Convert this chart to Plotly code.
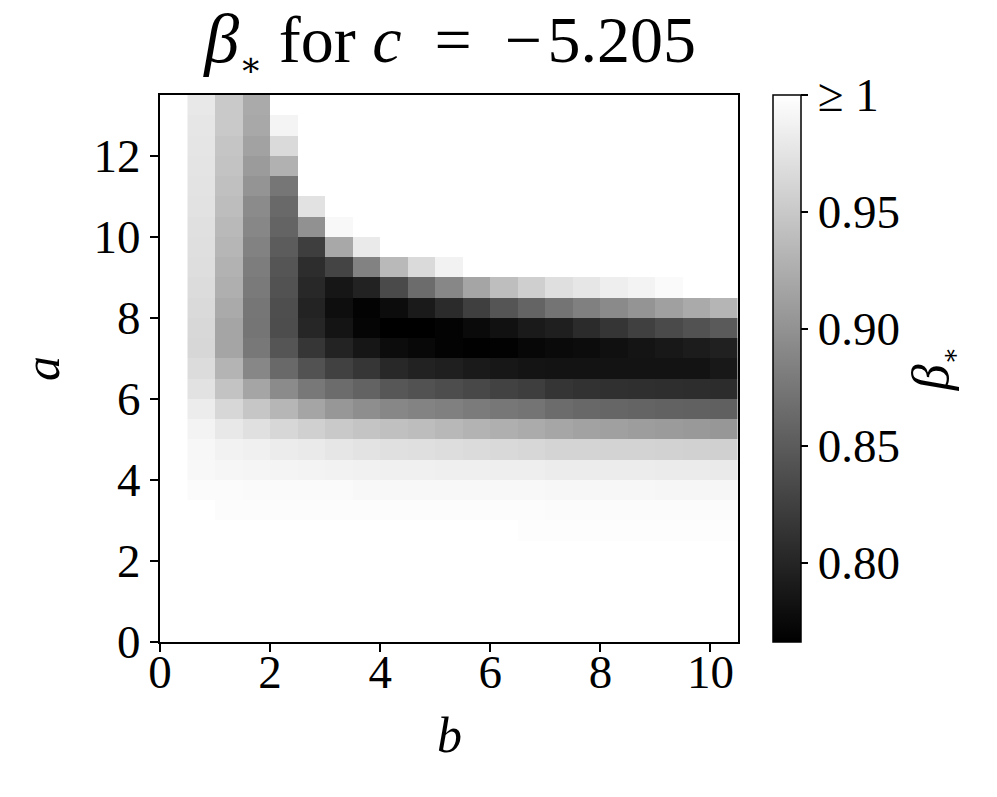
import plotly.graph_objects as go

FONT = "Liberation Serif"

# cell centres (b across, a up)
b_centers = [0.75, 1.25, 1.75, 2.25, 2.75, 3.25, 3.75, 4.25, 4.75, 5.25,
             5.75, 6.25, 6.75, 7.25, 7.75, 8.25, 8.75, 9.25, 9.75, 10.25]
a_centers = [0.25, 0.75, 1.25, 1.75, 2.25, 2.75, 3.25, 3.75, 4.25, 4.75,
             5.25, 5.75, 6.25, 6.75, 7.25, 7.75, 8.25, 8.75, 9.25, 9.75,
             10.25, 10.75, 11.25, 11.75, 12.25, 12.75, 13.25]

# beta_* per row (values >= 1 shown as 1)
row_0_25 = [1.0] * 20
row_0_75 = [1.0] * 20
row_1_25 = [1.0] * 20
row_1_75 = [1.0] * 20
row_2_25 = [1.0] * 20
row_2_75 = [1.0] * 12 + [0.998] * 8
row_3_25 = [1.0, 0.997, 0.997, 0.997, 0.997, 0.997, 0.997, 0.997, 0.997, 0.997,
            0.997, 0.997, 0.997, 0.996, 0.996, 0.996, 0.996, 0.996, 0.996, 0.996]
row_3_75 = [0.996, 0.996, 0.995, 0.995, 0.995, 0.995, 0.994, 0.994, 0.994, 0.994,
            0.994, 0.994, 0.994, 0.993, 0.993, 0.993, 0.993, 0.992, 0.992, 0.992]
row_4_25 = [0.994, 0.992, 0.991, 0.990, 0.989, 0.988, 0.987, 0.986, 0.986, 0.985,
            0.985, 0.984, 0.984, 0.983, 0.983, 0.983, 0.983, 0.982, 0.982, 0.981]
row_4_75 = [0.993, 0.988, 0.986, 0.983, 0.981, 0.977, 0.974, 0.972, 0.971, 0.969,
            0.967, 0.965, 0.963, 0.961, 0.961, 0.960, 0.960, 0.959, 0.958, 0.957]
row_5_25 = [0.989, 0.979, 0.972, 0.963, 0.957, 0.950, 0.946, 0.942, 0.939, 0.935,
            0.930, 0.927, 0.923, 0.918, 0.915, 0.913, 0.910, 0.908, 0.906, 0.905]
row_5_75 = [0.983, 0.963, 0.948, 0.933, 0.917, 0.905, 0.896, 0.890, 0.886, 0.883,
            0.879, 0.875, 0.872, 0.865, 0.861, 0.860, 0.858, 0.856, 0.855, 0.854]
row_6_25 = [0.973, 0.945, 0.917, 0.894, 0.876, 0.865, 0.857, 0.846, 0.841, 0.837,
            0.832, 0.827, 0.823, 0.815, 0.812, 0.810, 0.809, 0.808, 0.807, 0.806]
row_6_75 = [0.968, 0.931, 0.890, 0.862, 0.841, 0.826, 0.816, 0.803, 0.797, 0.794,
            0.790, 0.787, 0.784, 0.783, 0.783, 0.783, 0.783, 0.783, 0.783, 0.788]
row_7_25 = [0.963, 0.917, 0.876, 0.844, 0.816, 0.798, 0.786, 0.777, 0.773, 0.769,
            0.767, 0.768, 0.772, 0.775, 0.777, 0.781, 0.784, 0.788, 0.792, 0.795]
row_7_75 = [0.964, 0.917, 0.873, 0.837, 0.801, 0.784, 0.771, 0.766, 0.766, 0.769,
            0.775, 0.782, 0.790, 0.794, 0.805, 0.815, 0.825, 0.834, 0.841, 0.849]
row_8_25 = [0.966, 0.922, 0.874, 0.838, 0.798, 0.779, 0.769, 0.777, 0.790, 0.805,
            0.824, 0.844, 0.858, 0.872, 0.883, 0.893, 0.902, 0.913, 0.922, 0.932]
row_8_75 = [0.968, 0.927, 0.878, 0.841, 0.803, 0.786, 0.797, 0.834, 0.865, 0.890,
            0.917, 0.940, 0.956, 0.971, 0.977, 0.984, 0.989, 0.995, 1.0, 1.0]
row_9_25 = [0.970, 0.929, 0.881, 0.844, 0.807, 0.828, 0.885, 0.936, 0.966, 0.988,
            1.0, 1.0, 1.0, 1.0, 1.0, 1.0, 1.0, 1.0, 1.0, 1.0]
row_9_75 = [0.971, 0.933, 0.885, 0.850, 0.823, 0.920, 0.981] + [1.0] * 13
row_10_25 = [0.972, 0.936, 0.890, 0.858, 0.899, 0.994] + [1.0] * 14
row_10_75 = [0.973, 0.939, 0.894, 0.862, 0.973] + [1.0] * 15
row_11_25 = [0.974, 0.942, 0.902, 0.874] + [1.0] * 16
row_11_75 = [0.975, 0.945, 0.908, 0.928] + [1.0] * 16
row_12_25 = [0.976, 0.947, 0.915, 0.966] + [1.0] * 16
row_12_75 = [0.977, 0.950, 0.920, 0.990] + [1.0] * 16
row_13_25 = [0.979, 0.950, 0.922] + [1.0] * 17

z = [row_0_25, row_0_75, row_1_25, row_1_75, row_2_25, row_2_75, row_3_25,
     row_3_75, row_4_25, row_4_75, row_5_25, row_5_75, row_6_25, row_6_75,
     row_7_25, row_7_75, row_8_25, row_8_75, row_9_25, row_9_75, row_10_25,
     row_10_75, row_11_25, row_11_75, row_12_25, row_12_75, row_13_25]

cbar_vals = [0.80, 0.85, 0.90, 0.95, 1.0]
cbar_text = ["0.80", "0.85", "0.90", "0.95", "≥ 1"]

Z_MIN = 0.766
Z_MAX = 1.0

# small subscript star, like mathtext's \ast
def star(px):
    return "<sub><span style='font-family:DejaVu Serif;font-size:%dpx'>∗</span></sub>" % px

fig = go.Figure()
fig.add_trace(go.Heatmap(
    x=b_centers, y=a_centers, z=z,
    zmin=Z_MIN, zmax=Z_MAX,
    colorscale=[[0, "black"], [1, "white"]],
    colorbar=dict(
        x=1.0606, xanchor="left", xpad=0,
        y=0.5, yanchor="middle", len=1.0, lenmode="fraction", ypad=0,
        thickness=28, thicknessmode="pixels",
        outlinewidth=1.5, outlinecolor="black",
        tickvals=cbar_vals, ticktext=cbar_text,
        ticks="outside", ticklen=7, tickwidth=1.5, tickcolor="black",
        tickfont=dict(family=FONT, size=47, color="black"),
        title=dict(text="<i>β</i>" + star(26), side="right",
                   font=dict(family=FONT, size=52, color="black")),
    ),
    hovertemplate="b=%{x}<br>a=%{y}<br>β*=%{z}<extra></extra>",
))

axis_common = dict(
    showline=True, linewidth=2, linecolor="black", mirror=True,
    ticks="outside", ticklen=8, tickwidth=1.5, tickcolor="black",
    showgrid=False, zeroline=False,
    tickfont=dict(family=FONT, size=47, color="black"),
)

fig.update_xaxes(range=[0, 10.5], tickvals=[0, 2, 4, 6, 8, 10],
                 ticklabelstandoff=-20, **axis_common)
fig.update_yaxes(range=[0, 13.5], tickvals=[0, 2, 4, 6, 8, 10, 12], **axis_common)

title_text = ("<span style='font-size:70px'><i>β</i></span>" + star(34)
              + " for <i>c</i>  =  −\u200a" + "5.205")

fig.update_layout(
    width=997, height=797,
    margin=dict(l=152, r=267, t=87, b=163),
    paper_bgcolor="white", plot_bgcolor="white",
    title=dict(text=title_text,
               x=0.4434, xanchor="center", y=0.99, yanchor="top",
               font=dict(family=FONT, size=66, color="black")),
    annotations=[
        dict(text="<i>b</i>", xref="paper", yref="paper", x=0.5, y=-0.17,
             xanchor="center", yanchor="middle", showarrow=False,
             font=dict(family=FONT, size=50, color="black")),
        dict(text="<i>a</i>", xref="paper", yref="paper", x=-0.205, y=0.5,
             xanchor="center", yanchor="middle", showarrow=False, textangle=-90,
             font=dict(family=FONT, size=50, color="black")),
    ],
)

fig.write_html("out.html")
